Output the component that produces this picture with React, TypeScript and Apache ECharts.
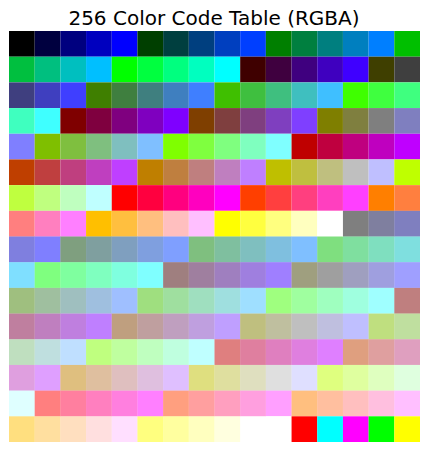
import React, { useEffect, useRef } from "react";
import * as echarts from "echarts";

const TITLE = "256 Color Code Table (RGBA)";

// 125 opaque RGB colours (5 levels per channel)
const BASE_COLORS = [
  "000000", "00003f", "00007f", "0000bf", "0000ff",
  "003f00", "003f3f", "003f7f", "003fbf", "003fff",
  "007f00", "007f3f", "007f7f", "007fbf", "007fff",
  "00bf00", "00bf3f", "00bf7f", "00bfbf", "00bfff",
  "00ff00", "00ff3f", "00ff7f", "00ffbf", "00ffff",
  "3f0000", "3f003f", "3f007f", "3f00bf", "3f00ff",
  "3f3f00", "3f3f3f", "3f3f7f", "3f3fbf", "3f3fff",
  "3f7f00", "3f7f3f", "3f7f7f", "3f7fbf", "3f7fff",
  "3fbf00", "3fbf3f", "3fbf7f", "3fbfbf", "3fbfff",
  "3fff00", "3fff3f", "3fff7f", "3fffbf", "3fffff",
  "7f0000", "7f003f", "7f007f", "7f00bf", "7f00ff",
  "7f3f00", "7f3f3f", "7f3f7f", "7f3fbf", "7f3fff",
  "7f7f00", "7f7f3f", "7f7f7f", "7f7fbf", "7f7fff",
  "7fbf00", "7fbf3f", "7fbf7f", "7fbfbf", "7fbfff",
  "7fff00", "7fff3f", "7fff7f", "7fffbf", "7fffff",
  "bf0000", "bf003f", "bf007f", "bf00bf", "bf00ff",
  "bf3f00", "bf3f3f", "bf3f7f", "bf3fbf", "bf3fff",
  "bf7f00", "bf7f3f", "bf7f7f", "bf7fbf", "bf7fff",
  "bfbf00", "bfbf3f", "bfbf7f", "bfbfbf", "bfbfff",
  "bfff00", "bfff3f", "bfff7f", "bfffbf", "bfffff",
  "ff0000", "ff003f", "ff007f", "ff00bf", "ff00ff",
  "ff3f00", "ff3f3f", "ff3f7f", "ff3fbf", "ff3fff",
  "ff7f00", "ff7f3f", "ff7f7f", "ff7fbf", "ff7fff",
  "ffbf00", "ffbf3f", "ffbf7f", "ffbfbf", "ffbfff",
  "ffff00", "ffff3f", "ffff7f", "ffffbf", "ffffff",
];

// the base set is shown twice: fully opaque, then half transparent
const ALPHAS = [1, 0.5];

// the last six cells
const EXTRA_COLORS = [
  "rgba(255,255,255,1)",
  "rgba(255,0,0,1)",
  "rgba(0,255,255,1)",
  "rgba(255,0,255,1)",
  "rgba(0,255,0,1)",
  "rgba(255,255,0,1)",
];

const COLS = ["0", "1", "2", "3", "4", "5", "6", "7", "8", "9", "10", "11", "12", "13", "14", "15"];
const ROWS = ["0", "1", "2", "3", "4", "5", "6", "7", "8", "9", "10", "11", "12", "13", "14", "15"];

function toRgba(hex: string, a: number): string {
  const r = parseInt(hex.slice(0, 2), 16);
  const g = parseInt(hex.slice(2, 4), 16);
  const b = parseInt(hex.slice(4, 6), 16);
  return `rgba(${r},${g},${b},${a})`;
}

const ALL_COLORS: string[] = [];
ALPHAS.forEach((a) => BASE_COLORS.forEach((h) => ALL_COLORS.push(toRgba(h, a))));
EXTRA_COLORS.forEach((c) => ALL_COLORS.push(c));

export default function App() {
  const ref = useRef<HTMLDivElement>(null);
  useEffect(() => {
    if (!ref.current) return;
    const chart = echarts.init(ref.current, undefined, { renderer: "svg" });
    const data = ALL_COLORS.map((c, i) => ({
      value: [i % COLS.length, Math.floor(i / COLS.length)],
      itemStyle: { color: c },
    }));
    chart.setOption({
      animation: false,
      backgroundColor: "#ffffff",
      title: {
        text: TITLE,
        left: "center",
        top: 3,
        textStyle: {
          fontFamily: "DejaVu Sans",
          fontSize: 20,
          fontWeight: "normal",
          color: "#000000",
        },
      },
      grid: { left: 9, top: 31, width: 411, height: 411, containLabel: false },
      xAxis: {
        type: "category",
        data: COLS,
        show: false,
      },
      yAxis: {
        type: "category",
        data: ROWS,
        inverse: true,
        show: false,
      },
      series: [
        {
          type: "custom",
          data,
          renderItem: (params: any, api: any) => {
            const c = api.coord([api.value(0), api.value(1)]);
            const s = api.size([1, 1]);
            return {
              type: "rect",
              shape: { x: c[0] - s[0] / 2, y: c[1] - s[1] / 2, width: s[0], height: s[1] },
              style: { fill: ALL_COLORS[params.dataIndex] },
            };
          },
        },
      ],
    });
    return () => chart.dispose();
  }, []);
  return (
    <div
      ref={ref}
      style={{ position: "fixed", left: 0, top: 0, width: 428, height: 451 }}
    />
  );
}
